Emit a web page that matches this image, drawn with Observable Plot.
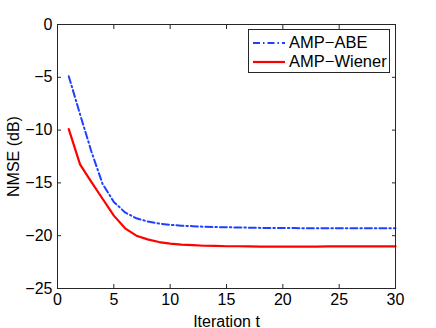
<!DOCTYPE html>
<html>
<head>
<meta charset="utf-8">
<script src="https://cdn.jsdelivr.net/npm/d3@7"></script>
<script src="https://cdn.jsdelivr.net/npm/@observablehq/plot@0.6"></script>
<style>
  html, body { margin: 0; padding: 0; background: #fff; }
  #wrap { position: relative; width: 436px; height: 328px; font-family: "Liberation Sans", Arial, sans-serif; }
  #wrap svg text { font-size: 16px; }
  #legend { position: absolute; left: 248px; top: 29px; width: 142px; height: 44px; border: 1px solid #262626; background: #fff; box-sizing: border-box; font-size: 16.5px; color: #000; }
  #legend .row { position: absolute; left: 4px; height: 19px; display: flex; align-items: center; }
  #legend svg { margin-right: 4px; }
</style>
</head>
<body>
<div id="wrap"></div>
<script>
const iterations = d3.range(1, 31);
const ampABE = [-4.9, -8.5, -12.0, -15.1, -16.8, -17.8, -18.35, -18.65, -18.85, -18.97,
  -19.05, -19.1, -19.15, -19.18, -19.2, -19.22, -19.24, -19.26, -19.27, -19.28,
  -19.28, -19.29, -19.29, -19.3, -19.3, -19.3, -19.3, -19.3, -19.3, -19.3];
const ampWiener = [-9.9, -13.25, -14.9, -16.5, -18.1, -19.3, -20.0, -20.35, -20.6, -20.75,
  -20.85, -20.9, -20.95, -20.97, -21.0, -21.0, -21.02, -21.03, -21.03, -21.03,
  -21.03, -21.03, -21.03, -21.02, -21.02, -21.02, -21.02, -21.02, -21.02, -21.02];
const seriesNames = ["AMP\u2212ABE", "AMP\u2212Wiener"];
const xTicks = [0, 5, 10, 15, 20, 25, 30];
const yTicks = [-25, -20, -15, -10, -5, 0];

const rows = [];
iterations.forEach((t, i) => {
  rows.push({t, v: ampABE[i], s: seriesNames[0]});
  rows.push({t, v: ampWiener[i], s: seriesNames[1]});
});

const font = "'Liberation Sans', Arial, sans-serif";
const chart = Plot.plot({
  width: 436,
  height: 328,
  marginLeft: 57,
  marginRight: 41,
  marginTop: 24,
  marginBottom: 40,
  style: {fontFamily: font, fontSize: "16px", color: "#000", background: "#fff"},
  x: {domain: [0, 30]},
  y: {domain: [-25, 0]},
  marks: [
    Plot.line(rows.filter(d => d.s === seriesNames[1]), {x: "t", y: "v", stroke: "#ff0000", strokeWidth: 2.2}),
    Plot.line(rows.filter(d => d.s === seriesNames[0]), {x: "t", y: "v", stroke: "#2040ff", strokeWidth: 2, strokeDasharray: "7,3,1.5,3"}),
    Plot.frame({stroke: "#262626", strokeWidth: 1}),
    Plot.axisX(xTicks, {anchor: "bottom", tickSize: -4, tickPadding: 9, fontSize: 16, label: "Iteration t", labelAnchor: "center", labelArrow: "none", labelOffset: 38, stroke: "#262626"}),
    Plot.axisX(xTicks, {anchor: "top", tickSize: -4, tickFormat: () => "", label: null, stroke: "#262626"}),
    Plot.axisY(yTicks, {anchor: "left", tickSize: -4, tickPadding: 9, fontSize: 16, label: "NMSE (dB)", labelAnchor: "center", labelArrow: "none", labelOffset: 50, stroke: "#262626"}),
    Plot.axisY(yTicks, {anchor: "right", tickSize: -4, tickFormat: () => "", label: null, stroke: "#262626"})
  ]
});

const wrap = document.getElementById("wrap");
wrap.appendChild(chart);

const legend = document.createElement("div");
legend.id = "legend";
const styles = [
  {stroke: "#2040ff", dash: "7,3,1.5,3", w: 2},
  {stroke: "#ff0000", dash: null, w: 2.2}
];
seriesNames.forEach((name, i) => {
  const row = document.createElement("div");
  row.className = "row";
  row.style.top = (3 + i * 19) + "px";
  row.innerHTML = `<svg width="32" height="10"><line x1="0" x2="32" y1="5" y2="5" stroke="${styles[i].stroke}" stroke-width="${styles[i].w}" ${styles[i].dash ? `stroke-dasharray="${styles[i].dash}"` : ""}/></svg><span>${name}</span>`;
  legend.appendChild(row);
});
wrap.appendChild(legend);
</script>
</body>
</html>
